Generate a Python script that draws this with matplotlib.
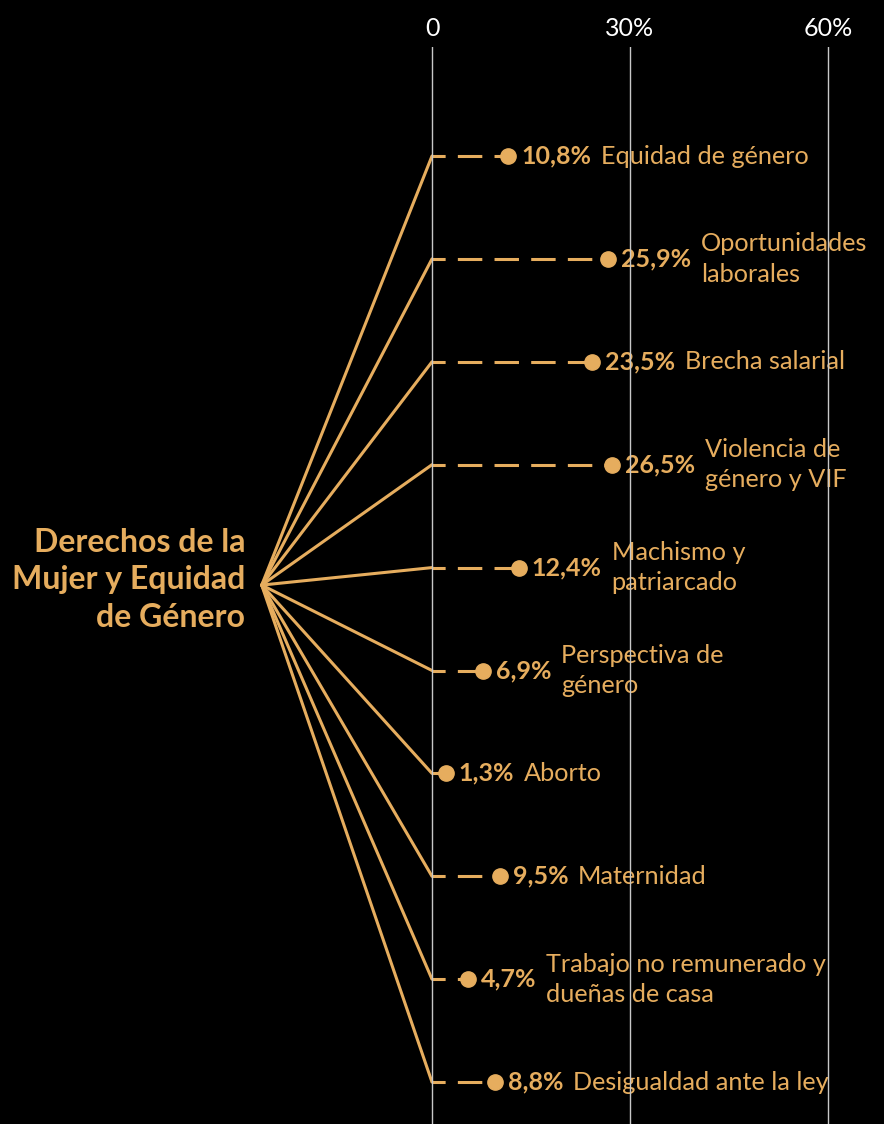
import matplotlib.pyplot as plt
from matplotlib.transforms import offset_copy

# data
categories = ['Equidad de género', 'Oportunidades\nlaborales', 'Brecha salarial',
              'Violencia de\ngénero y VIF', 'Machismo y\npatriarcado',
              'Perspectiva de\ngénero', 'Aborto', 'Maternidad',
              'Trabajo no remunerado y\ndueñas de casa', 'Desigualdad ante la ley']
values = [10.8, 25.9, 23.5, 26.5, 12.4, 6.9, 1.3, 9.5, 4.7, 8.8]
tick_values = [0, 30, 60]
tick_labels = ['0', '30%', '60%']
title = 'Derechos de la\nMujer y Equidad\nde Género'

gold = '#E6AD5E'
bg = 'black'
font = 'Lato'

W, H = 884, 1124
fig = plt.figure(figsize=(W / 100, H / 100), dpi=100, facecolor=bg)
# axes fills the figure except a strip on top for the tick labels
ax = fig.add_axes([0, 0, 1, (H - 47) / H], facecolor=bg)

px_per_pct = 6.6
ax.set_xlim(-432 / px_per_pct, (W - 432) / px_per_pct)
row_px = 102.9
ax.set_ylim((H - 156) / row_px, (47 - 156) / row_px)

for s in ax.spines.values():
    s.set_visible(False)

# ticks on top, grid over everything
ax.xaxis.tick_top()
ax.set_xticks(tick_values)
ax.set_xticklabels(tick_labels, fontfamily=font, fontsize=18, color='white')
ax.tick_params(axis='x', length=0, pad=5)
ax.set_yticks([])
ax.grid(axis='x', color='#c8c8c8', lw=1)
ax.set_axisbelow(False)

# the node the branches fan out from
root_x, root_y = -25.8, 4.17

dot_shift = offset_copy(ax.transData, fig=fig, x=5, y=0, units='dots')
val_tr = offset_copy(ax.transData, fig=fig, x=18, y=0, units='dots')

for i, (cat, v) in enumerate(zip(categories, values)):
    # solid branch from root to the zero line
    ax.plot([root_x, 0], [root_y, i], color=gold, lw=2.2, solid_capstyle='round', zorder=2)
    # dashed leader from zero to the value
    ax.plot([0, v], [i, i], color=gold, lw=2.2, linestyle=(3.7, (8.0, 4.0)), zorder=2)
    ax.plot(v, i, 'o', color=gold, ms=11, transform=dot_shift, zorder=2)

    t = ax.text(v, i, f'{v:.1f}%'.replace('.', ','), transform=val_tr,
                color=gold, fontfamily=font, fontweight='bold', fontsize=18,
                ha='left', va='center', zorder=2)
    ax.annotate(cat, xy=(1, 0.5), xycoords=t, xytext=(7, 0), textcoords='offset points',
                color=gold, fontfamily=font, fontsize=18.2, ha='left', va='center',
                linespacing=1.38, zorder=2)

ax.text(-28.3, 4.12, title, color=gold, fontfamily=font, fontweight='bold',
        fontsize=23, ha='right', va='center', linespacing=1.36)

fig.savefig('out.png', dpi=100, facecolor=bg)
